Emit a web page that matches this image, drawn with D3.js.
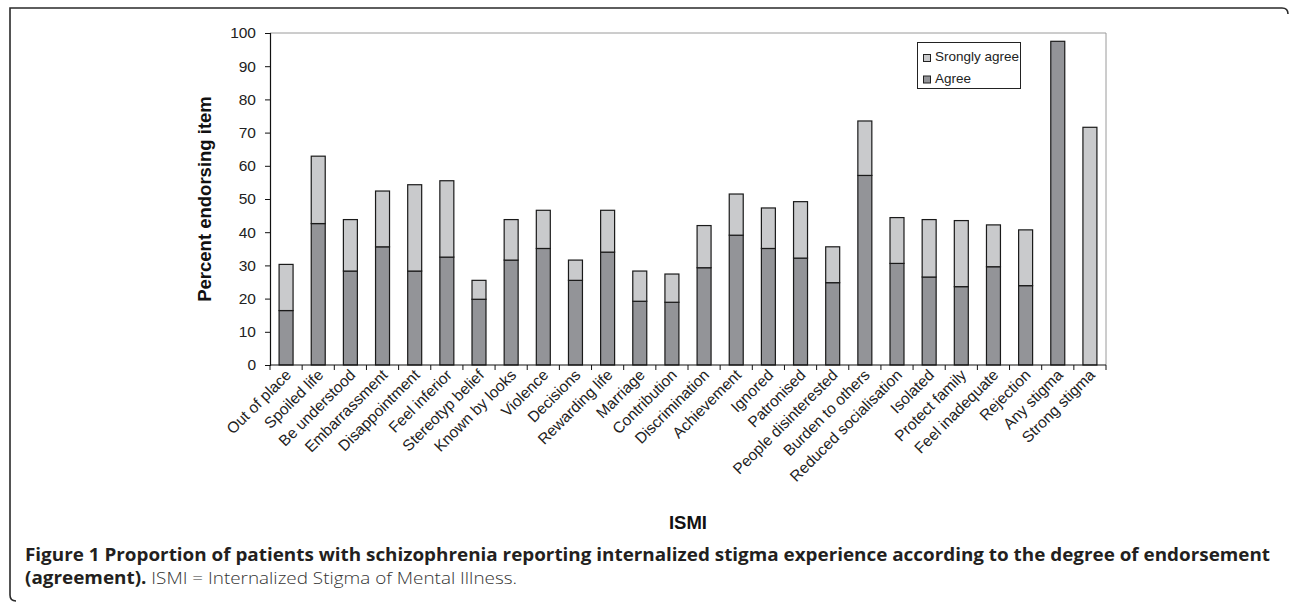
<!DOCTYPE html>
<html>
<head>
<meta charset="utf-8">
<script src="https://cdn.jsdelivr.net/npm/d3@7"></script>
<style>
  html, body { margin: 0; padding: 0; background: #fff; }
  svg { display: block; }
</style>
</head>
<body>
<svg id="chart" width="1290" height="604"></svg>
<script>
const categories = ["Out of place", "Spoiled life", "Be understood", "Embarrassment", "Disappointment",
  "Feel inferior", "Stereotyp belief", "Known by looks", "Violence", "Decisions", "Rewarding life",
  "Marriage", "Contribution", "Discrimination", "Achievement", "Ignored", "Patronised",
  "People disinterested", "Burden to others", "Reduced socialisation", "Isolated", "Protect family",
  "Feel inadequate", "Rejection", "Any stigma", "Strong stigma"];
const agree = [16.4, 42.6, 28.3, 35.6, 28.3, 32.5, 19.8, 31.6, 35.1, 25.5, 34.0, 19.2, 18.9, 29.3,
  39.1, 35.1, 32.2, 24.8, 57.1, 30.6, 26.5, 23.6, 29.6, 23.9, 97.5, 0];
const stronglyAgree = [13.9, 20.3, 15.5, 16.8, 26.0, 23.0, 5.7, 12.2, 11.5, 6.1, 12.6, 9.1, 8.5, 12.7,
  12.4, 12.2, 17.0, 10.8, 16.4, 13.8, 17.3, 19.9, 12.6, 16.8, 0, 71.6];
const seriesKeys = ["Agree", "Srongly agree"];
const legendOrder = ["Srongly agree", "Agree"];
const yTicks = [0, 10, 20, 30, 40, 50, 60, 70, 80, 90, 100];
const yTitle = "Percent endorsing item";
const xTitle = "ISMI";
const captionBold = "Figure 1 Proportion of patients with schizophrenia reporting internalized stigma experience according to the degree of endorsement";
const caption2Bold = "(agreement).";
const caption2Rest = " ISMI = Internalized Stigma of Mental Illness.";

const colors = { "Agree": "#939498", "Srongly agree": "#c9cacc" };

const svg = d3.select("#chart");
const pL = 270, pR = 1106, pT = 33, pB = 365;

// frame
svg.append("path")
  .attr("d", "M16,601 Q10,601 10,595 L10,8 L1282,8 Q1288,8 1288,14")
  .attr("fill", "none").attr("stroke", "#2a2a2a").attr("stroke-width", 1.6);

const rows = categories.map((c, i) => ({ cat: c, "Agree": agree[i], "Srongly agree": stronglyAgree[i] }));
const stacked = d3.stack().keys(seriesKeys)(rows);

const x = d3.scaleBand().domain(categories).range([pL, pR]).paddingInner(0.565).paddingOuter(0.2825);
const y = d3.scaleLinear().domain([0, 100]).range([pB, pT]);

// plot area border (top/right)
svg.append("path")
  .attr("d", `M${pL},${pT} L${pR},${pT} L${pR},${pB}`)
  .attr("fill", "none").attr("stroke", "#9a9a9a").attr("stroke-width", 1);

// bars
const g = svg.append("g");
stacked.forEach(s => {
  g.selectAll(null).data(s.filter(d => d[1] - d[0] > 0)).enter().append("rect")
    .attr("x", d => x(d.data.cat))
    .attr("width", x.bandwidth())
    .attr("y", d => y(d[1]))
    .attr("height", d => y(d[0]) - y(d[1]))
    .attr("fill", colors[s.key])
    .attr("stroke", "#1a1a1a").attr("stroke-width", 1.2);
});

// y axis
const yAxis = svg.append("g").attr("transform", `translate(${pL},0)`)
  .call(d3.axisLeft(y).tickValues(yTicks).tickSize(5).tickPadding(9).tickFormat(d3.format("d")));
yAxis.select(".domain").attr("stroke", "#111").attr("stroke-width", 1.2);
yAxis.selectAll(".tick line").attr("stroke", "#111");
yAxis.selectAll("text").attr("font-family", "Liberation Sans, Arial, sans-serif")
  .attr("font-size", 15.5).attr("fill", "#222");

// x axis
const step = x.step();
const gap = (step - x.bandwidth()) / 2;
const boundaries = categories.map(c => x(c) - gap).concat([x(categories[categories.length - 1]) + x.bandwidth() + gap]);
svg.append("line").attr("x1", pL).attr("x2", pR).attr("y1", pB).attr("y2", pB)
  .attr("stroke", "#111").attr("stroke-width", 1.2);
svg.selectAll(null).data(boundaries).enter().append("line")
  .attr("x1", d => d).attr("x2", d => d).attr("y1", pB).attr("y2", pB + 5)
  .attr("stroke", "#111");
svg.selectAll(null).data(categories).enter().append("text")
  .attr("transform", d => `translate(${x(d) + x.bandwidth() / 2 + 6},${pB + 11}) rotate(-45)`)
  .attr("text-anchor", "end")
  .attr("font-family", "Liberation Sans, Arial, sans-serif")
  .attr("font-size", 15.5).attr("fill", "#222")
  .text(d => d);

// axis titles
svg.append("text")
  .attr("transform", `translate(211,${(pT + pB) / 2}) rotate(-90)`)
  .attr("text-anchor", "middle")
  .attr("font-family", "Liberation Sans, Arial, sans-serif")
  .attr("font-size", 18.5).attr("font-weight", "bold").attr("fill", "#111")
  .text(yTitle);
svg.append("text")
  .attr("x", (pL + pR) / 2).attr("y", 529)
  .attr("text-anchor", "middle")
  .attr("font-family", "Liberation Sans, Arial, sans-serif")
  .attr("font-size", 18.5).attr("font-weight", "bold").attr("fill", "#111")
  .text(xTitle);

// legend
const lg = svg.append("g");
lg.append("rect").attr("x", 917.5).attr("y", 42.5).attr("width", 103).attr("height", 46)
  .attr("fill", "#fff").attr("stroke", "#222").attr("stroke-width", 1);
legendOrder.forEach((k, i) => {
  const yy = 61 + i * 21.5;
  lg.append("rect").attr("x", 923.5).attr("y", yy - 6.5).attr("width", 7).attr("height", 7)
    .attr("fill", colors[k]).attr("stroke", "#222").attr("stroke-width", 1);
  lg.append("text").attr("x", 935).attr("y", yy)
    .attr("font-family", "Liberation Sans, Arial, sans-serif")
    .attr("font-size", 13.5).attr("fill", "#222").text(k);
});

// caption
svg.append("text").attr("x", 25).attr("y", 561)
  .attr("font-family", "Open Sans, Noto Sans, sans-serif")
  .attr("font-size", 17.5).attr("font-weight", "bold").attr("fill", "#231f20")
  .attr("textLength", 1245).attr("lengthAdjust", "spacingAndGlyphs")
  .text(captionBold);
const c2 = svg.append("text").attr("x", 25).attr("y", 584)
  .attr("font-family", "Open Sans, Noto Sans, sans-serif")
  .attr("font-size", 17).attr("fill", "#231f20")
  .attr("textLength", 492).attr("lengthAdjust", "spacingAndGlyphs");
c2.append("tspan").attr("font-weight", "bold").text(caption2Bold);
c2.append("tspan").attr("font-weight", 300).attr("fill", "#333").text(caption2Rest);
</script>
</body>
</html>
